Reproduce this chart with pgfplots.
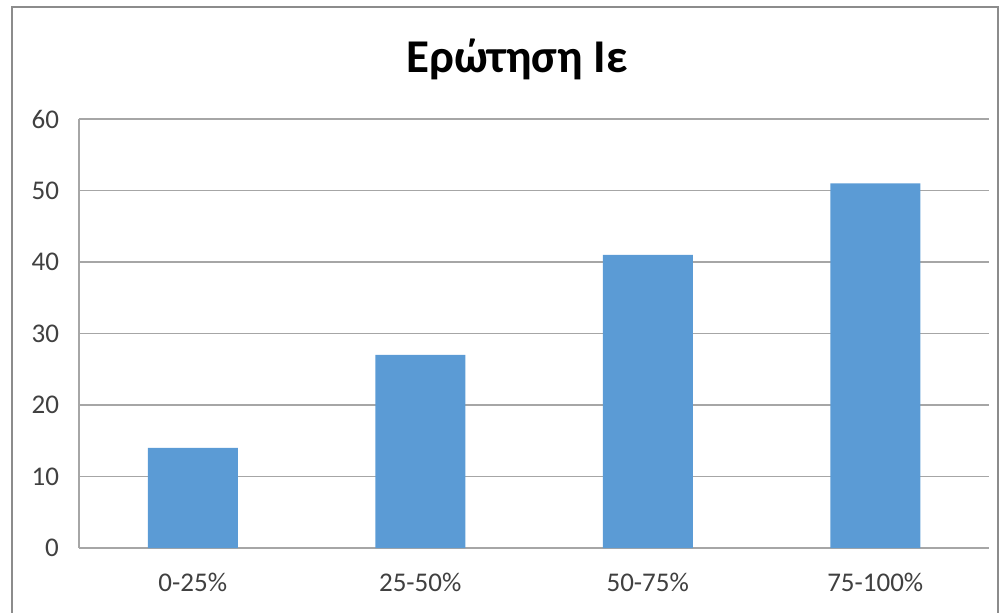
\documentclass[border=0pt]{standalone}
\usepackage{fontspec}
\setmainfont{Carlito}
\usepackage{pgfplots}
\pgfplotsset{compat=1.18}
\definecolor{barblue}{HTML}{5B9BD5}
\definecolor{gridgray}{HTML}{A6A6A6}
\definecolor{framegray}{HTML}{8C8C8C}
\definecolor{ticktext}{HTML}{404040}
\begin{document}
\begin{tikzpicture}
\useasboundingbox (0,0) rectangle (500pt,306pt);
\draw[framegray, line width=0.75pt] (6pt,-10pt) -- (6pt,302.5pt) -- (499pt,302.5pt) -- (499pt,-10pt);
\begin{axis}[
  at={(39.5pt,32pt)}, anchor=south west,
  width=455pt, height=214.5pt, scale only axis,
  ymin=0, ymax=60, ytick={0,10,...,60},
  xmin=-0.5, xmax=3.5, xtick=data,
  xticklabels={0-25\%,25-50\%,50-75\%,75-100\%},
  axis x line*=bottom, axis y line*=left,
  every outer x axis line/.append style={-},
  every outer y axis line/.append style={-},
  major tick length=0pt, tick style={draw=none},
  ymajorgrids, grid style={gridgray, line width=0.75pt},
  axis line style={gridgray, line width=0.75pt},
  ybar, bar width=45pt,
  ticklabel style={font=\fontsize{13.5}{16}\selectfont, text=ticktext},
  /pgf/number format/assume math mode=true,
  yticklabel style={xshift=-6.5pt},
  xticklabel style={yshift=-9pt},
]
\addplot[fill=barblue, draw=none] coordinates {(0,14) (1,27) (2,41) (3,51)};
\end{axis}
\node[anchor=base, font=\fontsize{23.5}{28}\selectfont\bfseries] at (258.5pt,269.5pt) {Ερώτηση Ιε};
\end{tikzpicture}
\end{document}
